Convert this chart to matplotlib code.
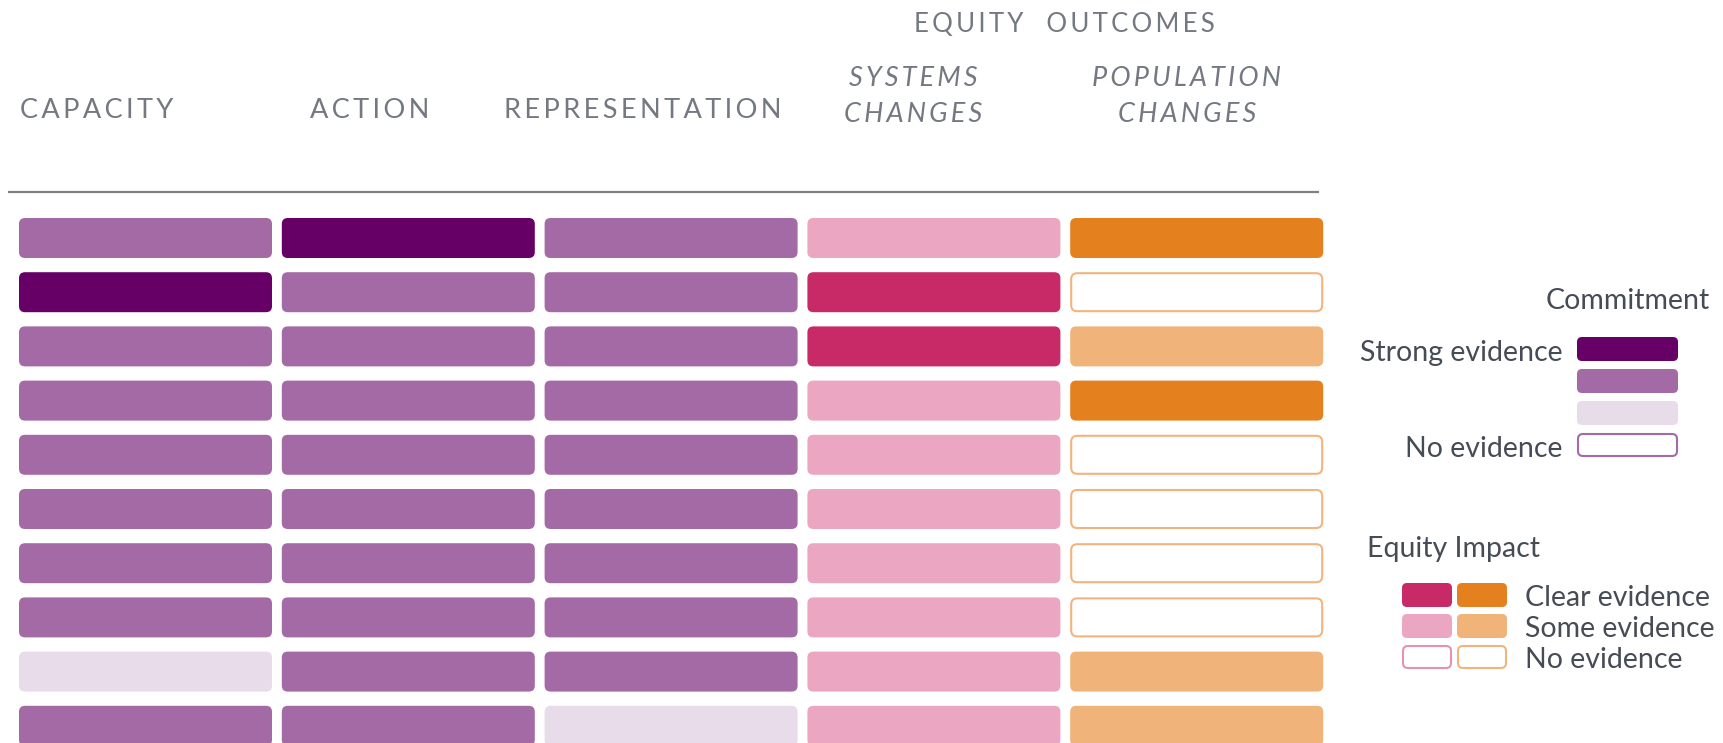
import matplotlib
matplotlib.use("Agg")
import matplotlib.pyplot as plt
from matplotlib.patches import FancyBboxPatch

# headers
headers = ["CAPACITY", "ACTION", "REPRESENTATION", "SYSTEMS\nCHANGES", "POPULATION\nCHANGES"]
group_header = "EQUITY  OUTCOMES"

# commitment: 3 strong, 2 moderate, 1 weak, 0 none
capacity =       [2, 3, 2, 2, 2, 2, 2, 2, 1, 2]
action =         [3, 2, 2, 2, 2, 2, 2, 2, 2, 2]
representation = [2, 2, 2, 2, 2, 2, 2, 2, 2, 1]
# equity impact: 2 clear, 1 some, 0 none
systems =        [1, 2, 2, 1, 1, 1, 1, 1, 1, 1]
population =     [2, 0, 1, 2, 0, 0, 0, 0, 1, 1]

commit_colors = {3: "#660066", 2: "#a46aa5", 1: "#e8dbea", 0: "white"}
commit_edge = "#a46aa5"
sys_colors = {2: "#c82a68", 1: "#eba7c1", 0: "white"}
sys_edge = "#e592b2"
pop_colors = {2: "#e5801f", 1: "#f0b379", 0: "white"}
pop_edge = "#f2b47e"

commit_legend = ["Strong evidence", "", "", "No evidence"]
equity_legend = ["Clear evidence", "Some evidence", "No evidence"]

W, H = 1724, 743
fig = plt.figure(figsize=(W / 100, H / 100), dpi=100)
ax = fig.add_axes([0, 0, 1, 1])
ax.set_xlim(0, W)
ax.set_ylim(H, 0)
ax.axis("off")

FAM = ["Lato", "DejaVu Sans"]
head_col = "#737881"
txt_col = "#464c55"


def spaced(s):
    # letter spacing like the original headings
    return "\n".join("\u2009".join(line) for line in s.split("\n"))


def box(x, y, w, h, fc, ec, r=6):
    if fc == "white":
        p = FancyBboxPatch((x + 1, y + 1), w - 2, h - 2,
                           boxstyle=f"round,pad=0,rounding_size={r}",
                           fc="white", ec=ec, lw=1.5)
    else:
        p = FancyBboxPatch((x, y), w, h, boxstyle=f"round,pad=0,rounding_size={r}",
                           fc=fc, ec="none")
    ax.add_patch(p)


# grid
x0, col_pitch, bar_w = 19, 262.8, 253
y0, row_pitch, bar_h = 218, 54.2, 40
columns = [(capacity, commit_colors, commit_edge),
           (action, commit_colors, commit_edge),
           (representation, commit_colors, commit_edge),
           (systems, sys_colors, sys_edge),
           (population, pop_colors, pop_edge)]
for c, (vals, cmap, ec) in enumerate(columns):
    for r, v in enumerate(vals):
        box(x0 + c * col_pitch, y0 + r * row_pitch, bar_w, bar_h, cmap[v], ec)

# header text
head_x = [20, 370, 643, 913, 1187]
for i, (lab, hx) in enumerate(zip(headers, head_x)):
    italic = i >= 3
    ax.text(hx, 111 if not italic else 96, spaced(lab),
            ha="left" if i == 0 else "center", va="center",
            fontsize=19.5, color=head_col, family=FAM,
            style="italic" if italic else "normal", linespacing=1.55)
ax.text(1064, 24, spaced(group_header), ha="center", va="center",
        fontsize=18.5, color=head_col, family=FAM)
ax.plot([8, 1319], [192, 192], color="#7f7f7f", lw=1.6, solid_capstyle="butt")

# commitment legend
ax.text(1710, 301, "Commitment", ha="right", va="center", fontsize=20.5,
        color=txt_col, family=FAM)
lg_tops = [337, 369, 401, 433]
levels = [3, 2, 1, 0]
for lab, lv, t in zip(commit_legend, levels, lg_tops):
    box(1577, t, 101, 24, commit_colors[lv], commit_edge, r=5)
    if lab:
        ax.text(1563, t + 16, lab, ha="right", va="center", fontsize=20.5,
                color=txt_col, family=FAM)

# equity legend
ax.text(1367, 549, "Equity Impact", ha="left", va="center", fontsize=20.5,
        color=txt_col, family=FAM)
eq_tops = [583, 614, 645]
for lab, lv, t in zip(equity_legend, [2, 1, 0], eq_tops):
    box(1402, t, 50, 24, sys_colors[lv], sys_edge, r=5)
    box(1457, t, 50, 24, pop_colors[lv], pop_edge, r=5)
    ax.text(1525, t + 15, lab, ha="left", va="center", fontsize=20.5,
            color=txt_col, family=FAM)

fig.savefig("out.png", dpi=100, facecolor="white")
